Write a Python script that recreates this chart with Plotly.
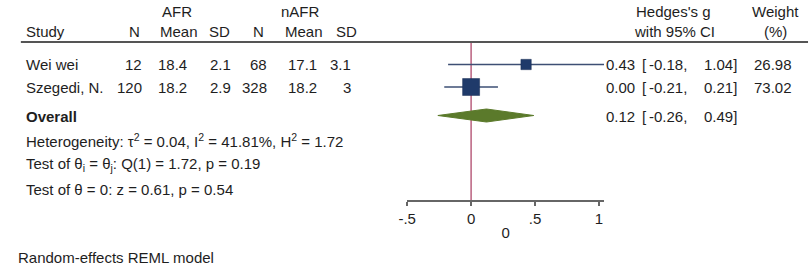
import plotly.graph_objects as go

# ---- data ----
studies = ["Wei wei", "Szegedi, N."]
afr_n = [12, 120]
afr_mean = ["18.4", "18.2"]
afr_sd = ["2.1", "2.9"]
nafr_n = [68, 328]
nafr_mean = ["17.1", "18.2"]
nafr_sd = ["3.1", "3"]
g = [0.43, 0.00]
g_lo = [-0.18, -0.21]
g_hi = [1.04, 0.21]
weight = [26.98, 73.02]
overall = {"g": 0.12, "lo": -0.26, "hi": 0.49}
het_text = "Heterogeneity: τ<sup>2</sup> = 0.04, I<sup>2</sup> = 41.81%, H<sup>2</sup> = 1.72"
q_text = "Test of θ<sub>i</sub> = θ<sub>j</sub>: Q(1) = 1.72, p = 0.19"
z_text = "Test of θ = 0: z = 0.61, p = 0.54"
model_text = "Random-effects REML model"
tick_vals = [-0.5, 0, 0.5, 1]
tick_text = ["-.5", "0", ".5", "1"]

W, H = 810, 271
FONT = "Liberation Sans, Arial, Helvetica, sans-serif"
FS = 15
TXT = "#1e1e1e"

def px(x):
    return x / W

def py(y):
    return 1 - y / H

# layout positions (pixels from top)
row_y = [64.5, 87.0]
over_y = 115.5
axis_bottom = 200
axis_top = 42
x0_pix, scale = 467.3, 129.3
xr = [-0.5, 1.04]
dom = [(x0_pix + scale * xr[0]) / W, (x0_pix + scale * xr[1]) / W]

fig = go.Figure()

navy = "#1f3a6a"
line_c = "#3d4f74"

# CI lines
for i in range(len(studies)):
    fig.add_trace(go.Scatter(x=[g_lo[i], g_hi[i]], y=[row_y[i], row_y[i]], mode="lines",
                             line=dict(color=line_c, width=1.3), hoverinfo="skip",
                             showlegend=False, cliponaxis=False))
# squares
wmax = max(weight)
fig.add_trace(go.Scatter(x=g, y=row_y, mode="markers",
                         marker=dict(symbol="square", color=navy, opacity=1,
                                     size=[17 * (w / wmax) ** 0.5 for w in weight],
                                     line=dict(color="#1a2f55", width=0.5)),
                         showlegend=False, cliponaxis=False))
# diamond
hh = 6.5
fig.add_trace(go.Scatter(x=[overall["lo"], overall["g"], overall["hi"], overall["g"], overall["lo"]],
                         y=[over_y, over_y - hh, over_y, over_y + hh, over_y],
                         mode="lines", fill="toself", fillcolor="#5b7a2b",
                         line=dict(color="#5b7a2b", width=1), showlegend=False, cliponaxis=False))

shapes = [
    dict(type="line", xref="x", yref="y", x0=0, x1=0, y0=axis_top, y1=axis_bottom,
         line=dict(color="#b9607f", width=1.5), layer="below"),
    dict(type="line", xref="paper", yref="paper", x0=px(12), x1=px(808), y0=py(42), y1=py(42),
         line=dict(color="#555555", width=2)),
]

ann = []

def t(x, y, s, anchor="left", bold=False, size=FS):
    ann.append(dict(x=px(x), y=py(y), xref="paper", yref="paper", text=("<b>%s</b>" % s) if bold else s,
                    showarrow=False, xanchor=anchor, yanchor="middle",
                    font=dict(family=FONT, size=size, color=TXT)))

# headers
t(170, 12, "AFR", "center")
t(295, 12, "nAFR", "center")
t(15, 32, "Study")
t(127, 32, "N", "center")
t(172, 32, "Mean", "center")
t(213, 32, "SD", "center")
t(252, 32, "N", "center")
t(298, 32, "Mean", "center")
t(341, 32, "SD", "center")
t(672, 12, "Hedges's g", "center")
t(673, 32, "with 95% CI", "center")
t(775, 12, "Weight", "center")
t(775, 32, "(%)", "center")

for i, s in enumerate(studies):
    y = row_y[i] + 0.5
    t(15, y, s)
    t(137, y, str(afr_n[i]), "right")
    t(182, y, afr_mean[i], "right")
    t(227, y, afr_sd[i], "right")
    t(263, y, str(nafr_n[i]), "right")
    t(313, y, nafr_mean[i], "right")
    t(348, y, nafr_sd[i], "right")
    t(635, y, "%.2f" % g[i], "right")
    t(638, y, "[")
    t(688, y, "%.2f," % g_lo[i], "right")
    t(738, y, "%.2f]" % g_hi[i], "right")
    t(794, y, "%.2f" % weight[i], "right")

t(15, 117, "Overall", bold=True)
t(635, 117, "%.2f" % overall["g"], "right")
t(638, 117, "[")
t(688, 117, "%.2f," % overall["lo"], "right")
t(738, 117, "%.2f]" % overall["hi"], "right")

t(15, 141, het_text)
t(15, 164, q_text)
t(15, 189, z_text)
t(7, 257, model_text)

fig.update_layout(
    width=W, height=H, margin=dict(l=0, r=0, t=0, b=0),
    paper_bgcolor="white", plot_bgcolor="white",
    shapes=shapes, annotations=ann, showlegend=False, hovermode=False,
    xaxis=dict(domain=dom, range=xr, tickvals=tick_vals, ticktext=tick_text,
               showline=True, linecolor="#666666", linewidth=1.5, ticks="outside",
               ticklen=4, tickwidth=1.5, tickcolor="#666666", showgrid=False, zeroline=False,
               tickfont=dict(family=FONT, size=FS, color=TXT),
               title=dict(text="0", font=dict(family=FONT, size=FS, color=TXT), standoff=2)),
    yaxis=dict(domain=[py(axis_bottom), py(axis_top)], range=[axis_bottom, axis_top],
               visible=False, showgrid=False, zeroline=False),
)

fig.write_html("out.html", config={"displayModeBar": False, "staticPlot": True},
               post_script="document.body.style.margin='0';document.body.style.overflow='hidden';")
